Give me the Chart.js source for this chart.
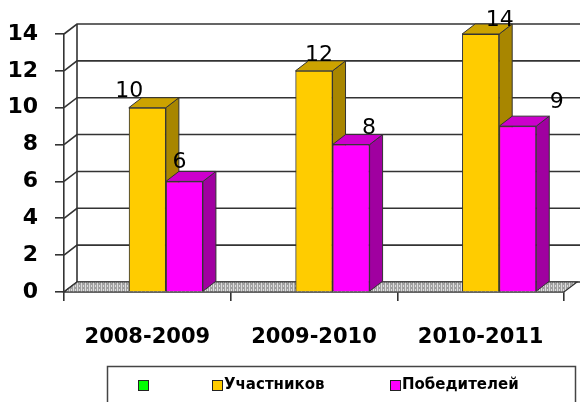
<!DOCTYPE html>
<html>
<head>
<meta charset="utf-8">
<script src="https://cdn.jsdelivr.net/npm/chart.js@4.4.1/dist/chart.umd.min.js"></script>
<style>
  html, body { margin: 0; padding: 0; background: #fff; }
  #wrap { width: 580px; height: 402px; }
</style>
</head>
<body>
<div id="wrap"><canvas id="chart" width="580" height="402"></canvas></div>
<script>
// chart data
const categories = ['2008-2009', '2009-2010', '2010-2011'];
const emptySeries = [null, null, null]; // green series, no bars
const participants = [10, 12, 14];
const winners = [6, 8, 9];
const seriesNames = ['', 'Участников', 'Победителей'];

// colors: front, side, top
const faceColors = [
  ['#00FF00', '#00A000', '#00CC00'],
  ['#FFCC00', '#A88600', '#CCA300'],
  ['#FF00FF', '#A000A0', '#CC00CC']
];
const DX = 13, DY = 10; // 3d depth
const lineColor = '#333333';
// shift of value labels from top of bar [category][series]
const labelShift = [[[-18, -16], [-5, -19]], [[5, -16], [18, -16]], [[19, -14], [39, -24]]];
const legendX = [138, 212, 390];

// hatched gray floor pattern
function floorPattern(ctx) {
  const c = document.createElement('canvas');
  c.width = 4; c.height = 4;
  const p = c.getContext('2d');
  p.fillStyle = '#a0a0a0';
  p.fillRect(0, 0, 4, 4);
  p.fillStyle = '#dcdcdc';
  p.fillRect(1, 0, 1, 4);
  p.fillRect(3, 1, 1, 2);
  return ctx.createPattern(c, 'repeat');
}

function poly(ctx, pts, fill) {
  ctx.beginPath();
  ctx.moveTo(pts[0][0], pts[0][1]);
  for (let i = 1; i < pts.length; i++) ctx.lineTo(pts[i][0], pts[i][1]);
  ctx.closePath();
  if (fill) { ctx.fillStyle = fill; ctx.fill(); }
  ctx.stroke();
}

const box3d = {
  id: 'box3d',
  beforeDatasetsDraw(chart) {
    const { ctx, chartArea: a, scales: { y } } = chart;
    const y0 = y.getPixelForValue(0);
    ctx.save();
    ctx.strokeStyle = lineColor;
    ctx.lineWidth = 1.6;
    // back wall grid + side wall connectors
    y.ticks.forEach(t => {
      const py = y.getPixelForValue(t.value);
      ctx.beginPath();
      ctx.moveTo(a.left, py);
      ctx.lineTo(a.left + DX, py - DY);
      ctx.lineTo(chart.width, py - DY);
      ctx.stroke();
    });
    ctx.beginPath();
    ctx.moveTo(a.left + DX, y.getPixelForValue(y.max) - DY);
    ctx.lineTo(a.left + DX, y0 - DY);
    ctx.stroke();
    // floor
    ctx.lineWidth = 1.2;
    poly(ctx, [[a.left, y0], [a.right, y0], [a.right + DX, y0 - DY], [a.left + DX, y0 - DY]], floorPattern(ctx));
    ctx.restore();
  },
  afterDatasetsDraw(chart) {
    const { ctx } = chart;
    ctx.save();
    ctx.strokeStyle = lineColor;
    ctx.lineWidth = 1;
    categories.forEach((cat, i) => {
      chart.data.datasets.forEach((ds, d) => {
        if (ds.data[i] == null) return;
        const el = chart.getDatasetMeta(d).data[i];
        const l = el.x - el.width / 2, r = el.x + el.width / 2;
        const top = el.y, bot = el.base;
        poly(ctx, [[r, top], [r + DX, top - DY], [r + DX, bot - DY], [r, bot]], faceColors[d][1]);
        poly(ctx, [[l, top], [l + DX, top - DY], [r + DX, top - DY], [r, top]], faceColors[d][2]);
        el.draw(ctx);
      });
    });
    // value labels
    ctx.fillStyle = '#000';
    ctx.font = '22px "DejaVu Sans", sans-serif';
    ctx.textAlign = 'center';
    ctx.textBaseline = 'middle';
    categories.forEach((cat, i) => {
      [1, 2].forEach((d, k) => {
        const el = chart.getDatasetMeta(d).data[i];
        const s = labelShift[i][k];
        ctx.fillText(String(chart.data.datasets[d].data[i]), el.x + s[0], el.y + s[1]);
      });
    });
    ctx.restore();
  },
  afterDraw(chart) {
    // legend box
    const { ctx } = chart;
    ctx.save();
    ctx.fillStyle = '#fff';
    ctx.strokeStyle = '#444';
    ctx.lineWidth = 1.5;
    ctx.fillRect(107, 366, 468, 50);
    ctx.strokeRect(107.5, 366.5, 468, 50);
    ctx.font = 'bold 15px "DejaVu Sans", sans-serif';
    ctx.textBaseline = 'middle';
    ctx.textAlign = 'left';
    chart.data.datasets.forEach((ds, d) => {
      const x = legendX[d];
      ctx.fillStyle = faceColors[d][0];
      ctx.lineWidth = 1;
      ctx.fillRect(x, 380, 10, 10);
      ctx.strokeStyle = '#222';
      ctx.strokeRect(x + 0.5, 380.5, 10, 10);
      ctx.fillStyle = '#000';
      ctx.fillText(ds.label, x + 12, 385);
    });
    ctx.restore();
  }
};

const ctx = document.getElementById('chart').getContext('2d');
const datasets = [emptySeries, participants, winners].map((vals, d) => ({
  label: seriesNames[d],
  data: vals,
  backgroundColor: faceColors[d][0],
  borderColor: lineColor,
  borderWidth: 1
}));

new Chart(ctx, {
  type: 'bar',
  data: { labels: categories, datasets: datasets },
  options: {
    responsive: false,
    animation: false,
    devicePixelRatio: 1,
    categoryPercentage: 0.667,
    barPercentage: 1,
    layout: { padding: { top: 34, right: 16, left: 0, bottom: 0 } },
    plugins: {
      legend: { display: false },
      tooltip: { enabled: false }
    },
    scales: {
      y: {
        min: 0,
        max: 14,
        ticks: { stepSize: 2, padding: 17, color: '#000', font: { family: 'DejaVu Sans', size: 22, weight: 'bold' } },
        grid: { drawOnChartArea: false, tickLength: 9, color: lineColor, lineWidth: 1.6 },
        border: { display: true, color: lineColor, width: 1.6 },
        afterFit(s) { s.width = 64; }
      },
      x: {
        ticks: { padding: 24, color: '#000', font: { family: 'DejaVu Sans', size: 21, weight: 'bold' } },
        grid: { drawOnChartArea: false, offset: true, tickLength: 9, color: lineColor, lineWidth: 1.6 },
        border: { display: true, color: lineColor, width: 1.6 },
        afterFit(s) { s.height = 110; }
      }
    }
  },
  plugins: [box3d]
});
</script>
</body>
</html>
